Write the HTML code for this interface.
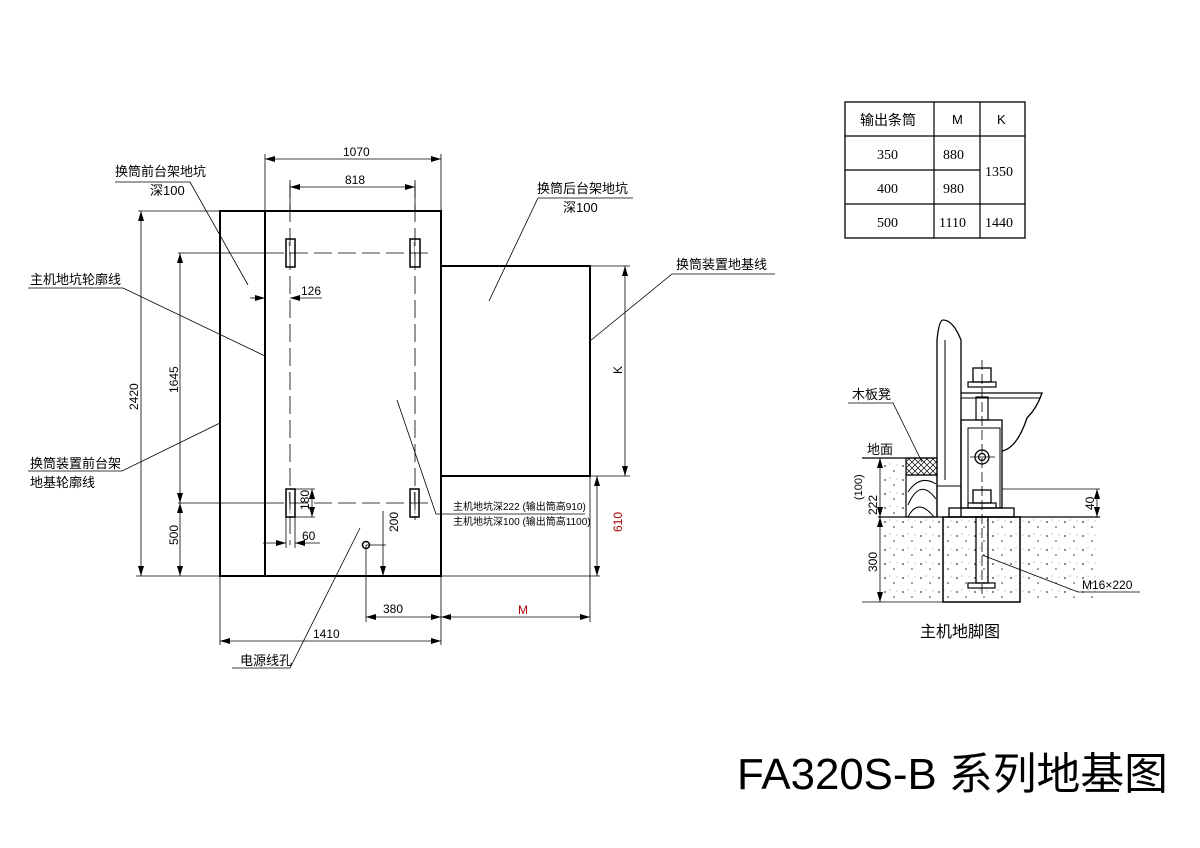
<!DOCTYPE html>
<html><head><meta charset="utf-8"><style>
html,body{margin:0;padding:0;background:#fff}
svg{display:block}
text{font-family:"Liberation Sans","Noto Sans CJK SC",sans-serif;fill:#000}
text.s{font-family:"Liberation Serif",serif}
text.r{fill:#a00}
</style></head><body>
<svg width="1200" height="848" viewBox="0 0 1200 848" xmlns="http://www.w3.org/2000/svg">
<defs>
<marker id="a" viewBox="0 0 10 6" refX="10" refY="3" markerWidth="10" markerHeight="6" orient="auto-start-reverse" markerUnits="userSpaceOnUse"><path d="M0,0L10,3L0,6z" fill="#000"/></marker>
<pattern id="hx" width="6" height="6" patternUnits="userSpaceOnUse"><path d="M0,0L6,6M6,0L0,6" stroke="#000" stroke-width="0.7"/></pattern>
<pattern id="dots" width="18" height="14" patternUnits="userSpaceOnUse"><circle cx="3" cy="4" r="0.9" fill="#333"/><circle cx="12" cy="9" r="0.8" fill="#333"/><circle cx="8" cy="2" r="0.5" fill="#666"/><circle cx="15" cy="3" r="0.5" fill="#777"/></pattern>
</defs>
<g fill="none" stroke="#000">
<rect x="220" y="211" width="221" height="365" stroke-width="2"/>
<line x1="265" y1="211" x2="265" y2="576" stroke-width="2"/>
<rect x="441" y="266" width="149" height="210" stroke-width="2"/>
<rect x="286" y="239" width="9" height="28" stroke-width="1.5"/>
<rect x="410" y="239" width="10" height="28" stroke-width="1.5"/>
<rect x="286" y="489" width="9" height="28" stroke-width="1.5"/>
<rect x="410" y="489" width="9" height="28" stroke-width="1.5"/>
<g stroke-width="0.8" stroke-dasharray="18,6">
<line x1="290" y1="180" x2="290" y2="545"/><line x1="415" y1="180" x2="415" y2="520"/>
<line x1="266" y1="253" x2="430" y2="253"/><line x1="266" y1="503" x2="430" y2="503"/>
</g>
<g stroke-width="0.8">
<line x1="178" y1="253" x2="266" y2="253"/><line x1="178" y1="503" x2="266" y2="503"/>
<line x1="265" y1="154" x2="265" y2="211"/><line x1="441" y1="154" x2="441" y2="211"/>
<line x1="265" y1="159" x2="441" y2="159" marker-start="url(#a)" marker-end="url(#a)"/>
<line x1="290" y1="183" x2="290" y2="211"/><line x1="415" y1="183" x2="415" y2="211"/>
<line x1="290" y1="187" x2="415" y2="187" marker-start="url(#a)" marker-end="url(#a)"/>
<line x1="138" y1="211" x2="220" y2="211"/>
<line x1="141" y1="211" x2="141" y2="576" marker-start="url(#a)" marker-end="url(#a)"/>
<line x1="180" y1="253" x2="180" y2="503" marker-start="url(#a)" marker-end="url(#a)"/>
<line x1="180" y1="503" x2="180" y2="576" marker-start="url(#a)" marker-end="url(#a)"/>
<line x1="136" y1="576" x2="600" y2="576"/>
<line x1="250" y1="298" x2="265" y2="298" marker-end="url(#a)"/>
<line x1="322" y1="298" x2="290" y2="298" marker-end="url(#a)"/>
<line x1="295" y1="489" x2="315" y2="489"/><line x1="295" y1="517" x2="315" y2="517"/>
<line x1="312" y1="489" x2="312" y2="517" marker-start="url(#a)" marker-end="url(#a)"/>
<line x1="286" y1="517" x2="286" y2="548"/><line x1="295" y1="517" x2="295" y2="548"/>
<line x1="263" y1="543" x2="286" y2="543" marker-end="url(#a)"/>
<line x1="320" y1="543" x2="295" y2="543" marker-end="url(#a)"/>
<line x1="383" y1="511" x2="383" y2="576" marker-end="url(#a)"/>
<line x1="366" y1="545" x2="386" y2="545"/>
<line x1="366" y1="545" x2="366" y2="622"/>
<line x1="441" y1="576" x2="441" y2="645"/><line x1="590" y1="476" x2="590" y2="622"/>
<line x1="220" y1="576" x2="220" y2="645"/>
<line x1="366" y1="617" x2="441" y2="617" marker-start="url(#a)" marker-end="url(#a)"/>
<line x1="441" y1="617" x2="590" y2="617" marker-start="url(#a)" marker-end="url(#a)"/>
<line x1="220" y1="641" x2="441" y2="641" marker-start="url(#a)" marker-end="url(#a)"/>
<line x1="590" y1="266" x2="630" y2="266"/><line x1="590" y1="476" x2="630" y2="476"/>
<line x1="625" y1="266" x2="625" y2="476" marker-start="url(#a)" marker-end="url(#a)"/>
<line x1="597" y1="476" x2="597" y2="576" marker-start="url(#a)" marker-end="url(#a)"/>
<polyline points="115,182 190,182 248,285"/>
<polyline points="28,288 123,288 265,356"/>
<polyline points="28,471 122,471 220,423"/>
<polyline points="633,198 538,198 489,301"/>
<polyline points="775,274 672,274 590,341"/>
<polyline points="397,400 436,514 585,514"/>
<polyline points="232,668 290,668 360,528"/>
</g>
<circle cx="366" cy="545" r="3.5" stroke-width="1.5"/>
<g stroke-width="0.6" stroke="#555"><line x1="289" y1="242" x2="290" y2="264"/><line x1="414" y1="242" x2="415" y2="264"/><line x1="289" y1="492" x2="290" y2="514"/><line x1="414" y1="492" x2="415" y2="514"/></g>
<rect x="845" y="102" width="180" height="136" stroke-width="1.3"/>
<g stroke-width="1.2"><line x1="934" y1="102" x2="934" y2="238"/><line x1="980" y1="102" x2="980" y2="238"/>
<line x1="845" y1="136" x2="1025" y2="136"/><line x1="845" y1="170" x2="980" y2="170"/><line x1="845" y1="204" x2="1025" y2="204"/></g>
<rect x="880" y="458" width="26" height="59" fill="url(#dots)" stroke="none"/>
<rect x="880" y="517" width="63" height="85" fill="url(#dots)" stroke="none"/>
<rect x="1020" y="517" width="80" height="85" fill="url(#dots)" stroke="none"/>
<rect x="943" y="517" width="77" height="85" fill="url(#dots)" stroke-width="1.5"/>
<line x1="862" y1="458" x2="937" y2="458" stroke-width="1.3"/>
<line x1="878" y1="517" x2="1100" y2="517" stroke-width="1.3"/>
<rect x="906" y="458" width="31" height="17" fill="url(#hx)" stroke-width="1.2"/>
<rect x="906" y="475" width="31" height="42" stroke-width="1.2"/>
<path d="M908,517 q10,-20 26,0 M908,505 q12,-28 28,-6 M908,492 q12,-18 28,-8" stroke-width="1"/>
<path d="M937,517 V340 q2,-20 6,-20 q10,0 18,20 V517" stroke-width="1.3"/>
<line x1="945" y1="480" x2="945" y2="340" stroke-width="1"/>
<path d="M937,486 H961" stroke-width="1"/>
<rect x="949" y="508" width="65" height="9" stroke-width="1.3"/>
<rect x="961" y="420" width="41" height="88" stroke-width="1.3"/>
<rect x="968" y="428" width="32" height="80" stroke-width="1"/>
<circle cx="982" cy="457" r="7" stroke-width="1.3"/><circle cx="982" cy="457" r="3.5" stroke-width="1.2"/>
<rect x="973" y="368" width="18" height="14" stroke-width="1.3"/>
<rect x="968" y="382" width="28" height="5" stroke-width="1.2"/>
<rect x="976" y="397" width="12" height="23" stroke-width="1.2"/>
<rect x="973" y="490" width="18" height="13" stroke-width="1.3"/>
<rect x="968" y="503" width="28" height="5" stroke-width="1.2"/>
<path d="M961,393 H1042 q-5,15 -15,25 q-10,30 -25,33" stroke-width="1.3"/>
<line x1="961" y1="398" x2="1040" y2="398" stroke-width="1"/>
<rect x="976" y="517" width="12" height="66" stroke-width="1.3"/>
<rect x="968" y="583" width="27" height="5" stroke-width="1.2"/>
<g stroke-width="0.8">
<line x1="982" y1="360" x2="982" y2="595" stroke-dasharray="10,4"/>
<line x1="970" y1="457" x2="995" y2="457"/>
<line x1="862" y1="602" x2="943" y2="602"/>
<line x1="1002" y1="489" x2="1100" y2="489"/>
<line x1="1097" y1="489" x2="1097" y2="517" marker-start="url(#a)" marker-end="url(#a)"/>
<line x1="880" y1="458" x2="880" y2="517" marker-start="url(#a)" marker-end="url(#a)"/>
<line x1="880" y1="517" x2="880" y2="602" marker-start="url(#a)" marker-end="url(#a)"/>
<polyline points="1140,592 1078,592 982,555"/>
<polyline points="848,403 893,403 922,462"/>
</g>
</g>
<g font-size="12">
<text x="343" y="156">1070</text>
<text x="345" y="184">818</text>
<text x="301" y="295">126</text>
<text x="302" y="540">60</text>
<text x="115" y="176" font-size="13">换筒前台架地坑</text>
<text x="150" y="195" font-size="13">深100</text>
<text x="30" y="284" font-size="13">主机地坑轮廓线</text>
<text x="30" y="468" font-size="13">换筒装置前台架</text>
<text x="30" y="487" font-size="13">地基轮廓线</text>
<text x="537" y="193" font-size="13">换筒后台架地坑</text>
<text x="563" y="212" font-size="13">深100</text>
<text x="676" y="269" font-size="13">换筒装置地基线</text>
<text x="453" y="510" font-size="10">主机地坑深222 (输出筒高910)</text>
<text x="453" y="525" font-size="10">主机地坑深100 (输出筒高1100)</text>
<text x="240" y="665" font-size="13">电源线孔</text>
<text x="383" y="613">380</text>
<text x="313" y="638">1410</text>
<text x="518" y="614" class="r">M</text>
<text transform="translate(138,410) rotate(-90)">2420</text>
<text transform="translate(178,393) rotate(-90)">1645</text>
<text transform="translate(178,545) rotate(-90)">500</text>
<text transform="translate(309,510) rotate(-90)">180</text>
<text transform="translate(398,532) rotate(-90)">200</text>
<text transform="translate(622,374) rotate(-90)">K</text>
<text transform="translate(622,532) rotate(-90)" class="r">610</text>
<text x="860" y="125" font-size="14">输出条筒</text>
<text x="952" y="124" font-size="13">M</text>
<text x="997" y="124" font-size="13">K</text>
<g font-size="14">
<text class="s" x="877" y="159">350</text><text class="s" x="943" y="159">880</text>
<text class="s" x="877" y="193">400</text><text class="s" x="943" y="193">980</text>
<text class="s" x="877" y="227">500</text><text class="s" x="939" y="227">1110</text>
<text class="s" x="985" y="176">1350</text><text class="s" x="985" y="227">1440</text>
</g>
<text x="852" y="399" font-size="13">木板凳</text>
<text x="867" y="454" font-size="13">地面</text>
<text transform="translate(877,515) rotate(-90)">222</text>
<text transform="translate(862,500) rotate(-90)" font-size="11">(100)</text>
<text transform="translate(877,572) rotate(-90)">300</text>
<text transform="translate(1094,510) rotate(-90)">40</text>
<text x="1082" y="589">M16×220</text>
<text x="920" y="637" font-size="16">主机地脚图</text>
</g>
<text x="737" y="789" font-size="44" textLength="431" lengthAdjust="spacingAndGlyphs">FA320S-B 系列地基图</text>
</svg>
</body></html>
